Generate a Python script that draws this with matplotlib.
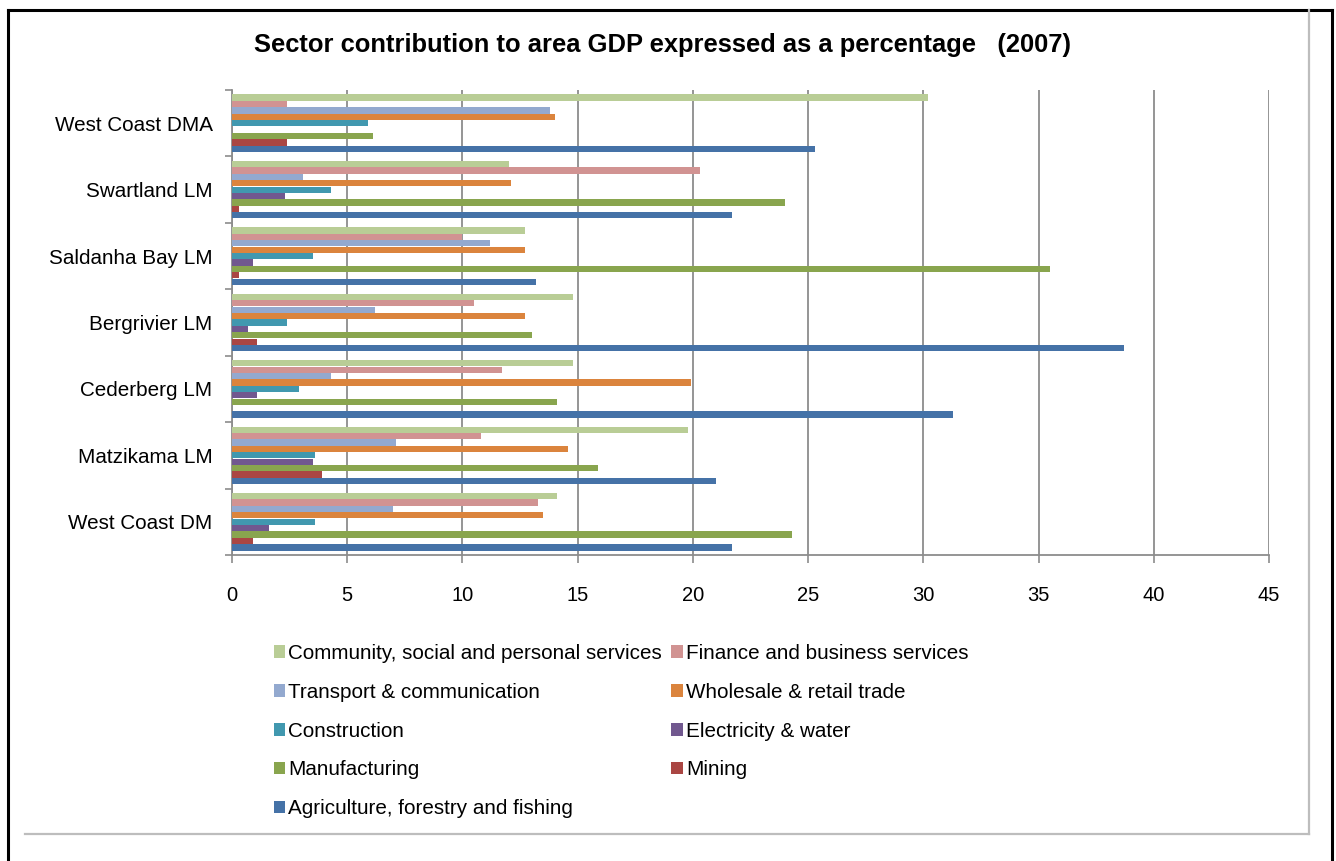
import numpy as np
import matplotlib
matplotlib.use("Agg")
import matplotlib.pyplot as plt
from matplotlib.lines import Line2D
from matplotlib.patches import Patch

plt.rcParams['font.family'] = ['Liberation Sans', 'DejaVu Sans']

# Areas, listed top to bottom
areas = ["West Coast DMA", "Swartland LM", "Saldanha Bay LM", "Bergrivier LM",
         "Cederberg LM", "Matzikama LM", "West Coast DM"]

# Sector shares (% of area GDP, 2007), same order as areas
community     = [30.2, 12.0, 12.7, 14.8, 14.8, 19.8, 14.1]
finance       = [2.4, 20.3, 10.0, 10.5, 11.7, 10.8, 13.3]
transport     = [13.8, 3.1, 11.2, 6.2, 4.3, 7.1, 7.0]
wholesale     = [14.0, 12.1, 12.7, 12.7, 19.9, 14.6, 13.5]
construction  = [5.9, 4.3, 3.5, 2.4, 2.9, 3.6, 3.6]
electricity   = [0.0, 2.3, 0.9, 0.7, 1.1, 3.5, 1.6]
manufacturing = [6.1, 24.0, 35.5, 13.0, 14.1, 15.9, 24.3]
mining        = [2.4, 0.3, 0.3, 1.1, 0.0, 3.9, 0.9]
agriculture   = [25.3, 21.7, 13.2, 38.7, 31.3, 21.0, 21.7]

sector_names = ["Community, social and personal services",
                "Finance and business services",
                "Transport & communication",
                "Wholesale & retail trade",
                "Construction",
                "Electricity & water",
                "Manufacturing",
                "Mining",
                "Agriculture, forestry and fishing"]
sector_values = [community, finance, transport, wholesale, construction,
                 electricity, manufacturing, mining, agriculture]
sector_colors = ["#B9CD96", "#D19392", "#93A9CF", "#DB843D", "#4198AF",
                 "#71588F", "#89A54E", "#AA4643", "#4572A7"]

x_ticks = [0, 5, 10, 15, 20, 25, 30, 35, 40, 45]

W, H = 1336, 861
fig = plt.figure(figsize=(W / 100, H / 100), dpi=100)
ax = fig.add_axes([232 / W, 1 - 555 / H, (1269 - 232) / W, (555 - 90) / H])

n_areas = len(areas)
n_sec = len(sector_names)
step = 1.0 / 10.37
bar_h = step * 0.97
centers = np.arange(n_areas)[::-1]  # first area on top

for i, (vals, col) in enumerate(zip(sector_values, sector_colors)):
    # sector i sits i steps below the top of the group
    offs = (n_sec - 1) / 2 - i
    ax.barh(centers + offs * step, vals, height=bar_h, color=col,
            edgecolor='none', zorder=3)

ax.set_xlim(0, 45)
ax.set_ylim(-0.5, n_areas - 0.5)
ax.set_xticks(x_ticks)
ax.set_xticklabels([str(t) for t in x_ticks], fontsize=14.5)
ax.xaxis.grid(True, color="#8C8C8C", linewidth=1.3, zorder=0)
ax.set_axisbelow(True)

# category boundaries carry the tick marks, names sit in between
ax.set_yticks(np.arange(-0.5, n_areas, 1.0))
ax.set_yticklabels([])
ax.set_yticks(centers, minor=True)
ax.set_yticklabels(areas, minor=True, fontsize=14.9)
ax.tick_params(axis='y', which='minor', length=0, pad=14)
ax.tick_params(axis='y', which='major', length=5, color="#8C8C8C", width=1.2)
ax.tick_params(axis='x', length=6, color="#8C8C8C", width=1.2, pad=16)

for s in ['top', 'right']:
    ax.spines[s].set_visible(False)
for s in ['left', 'bottom']:
    ax.spines[s].set_color("#8C8C8C")
    ax.spines[s].set_linewidth(1.3)

fig.text(663 / W, 1 - 45 / H,
         "Sector contribution to area GDP expressed as a percentage   (2007)",
         ha='center', va='center', fontsize=18.4, fontweight='bold')

# legend: two columns, filled column by column
order = [0, 2, 4, 6, 8, 1, 3, 5, 7]
handles = [Patch(facecolor=sector_colors[k], edgecolor='none') for k in order]
labels = [sector_names[k] for k in order]
fig.legend(handles, labels, ncol=2, loc='upper left',
           bbox_to_anchor=(274 / W, 1 - 644 / H), frameon=False,
           fontsize=14.85, handlelength=0.55, handleheight=0.55,
           handletextpad=0.15, columnspacing=0.45, labelspacing=0.96,
           borderpad=0, borderaxespad=0)

# page frame and chart border
def hline(y, x0, x1, **kw):
    fig.add_artist(Line2D([x0 / W, x1 / W], [1 - y / H, 1 - y / H],
                          transform=fig.transFigure, **kw))

def vline(x, y0, y1, **kw):
    fig.add_artist(Line2D([x / W, x / W], [1 - y0 / H, 1 - y1 / H],
                          transform=fig.transFigure, **kw))

hline(10, 8, 1332, color='black', linewidth=2.2)
vline(8, 10, H, color='black', linewidth=2.2)
vline(1332, 10, H, color='black', linewidth=2.2)
vline(1309, 10, 834, color='#BDBDBD', linewidth=1.6)
hline(834, 25, 1309, color='#BDBDBD', linewidth=1.6)

fig.savefig("out.png", dpi=100)
